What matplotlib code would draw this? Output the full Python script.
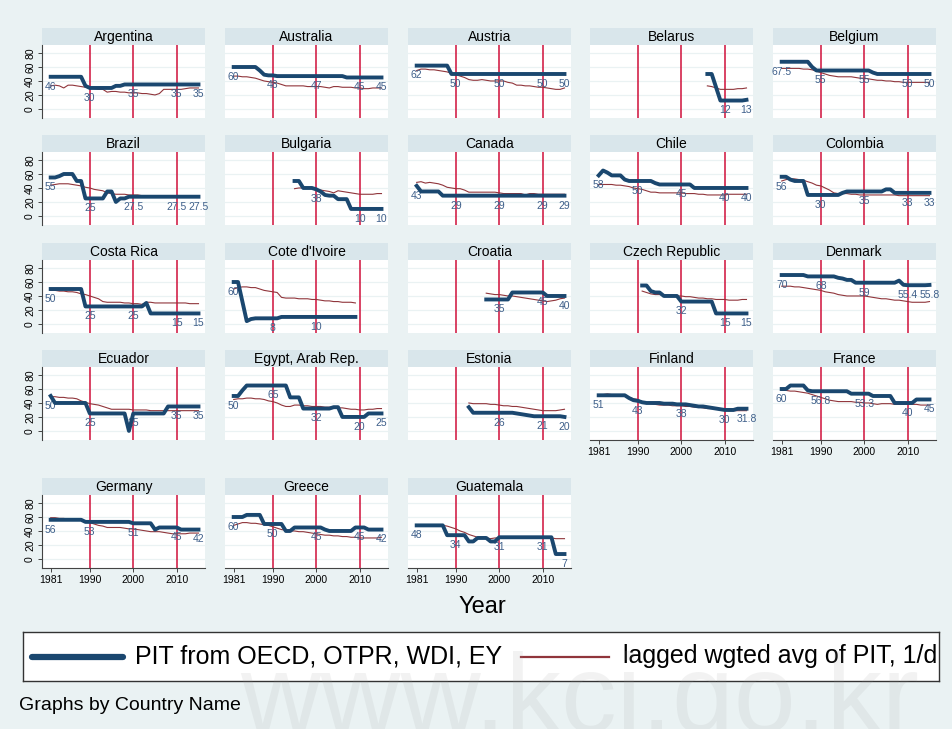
import numpy as np
import matplotlib
matplotlib.use('Agg')
from matplotlib import pyplot as plt

# Stata 风格字体 (Arial 替代)
plt.rcParams['font.family'] = ['Liberation Sans', 'DejaVu Sans']

nan = np.nan
years = list(range(1981, 2016))
label_years = [1981, 1990, 2000, 2010, 2015]

# PIT (blue) and lagged weighted avg (red), one value per year 1981-2015
argentina_pit = [46, 46, 46, 46, 46, 46, 46, 46, 33, 30, 30, 30, 30, 30, 30, 33, 33, 35, 35, 35,
                 35, 35, 35, 35, 35, 35, 35, 35, 35, 35, 35, 35, 35, 35, 35]
argentina_avg = [33, 34, 33, 30, 34, 34, 33, 32, 31, 30, 29, 28, 28, 24, 25, 25, 24, 24, 23, 23,
                 23, 22, 22, 21, 20, 22, 28, 28, 28, 28, 28, 29, 30, 30, 30]
australia_pit = [60, 60, 60, 60, 60, 60, 55, 49, 48, 48, 47, 47, 47, 47, 47, 47, 47, 47, 47, 47,
                 47, 47, 47, 47, 47, 47, 45, 45, 45, 45, 45, 45, 45, 45, 45]
australia_avg = [47, 47, 46, 46, 45, 44, 42, 40, 39, 38, 37, 35, 33, 33, 33, 33, 33, 32, 32, 32,
                 32, 31, 30, 32, 32, 31, 31, 31, 30, 30, 29, 29, 30, 30, 30]
austria_pit = [62, 62, 62, 62, 62, 62, 62, 62, 50, 50, 50, 50, 50, 50, 50, 50, 50, 50, 50, 50,
               50, 50, 50, 50, 50, 50, 50, 50, 50, 50, 50, 50, 50, 50, 50]
austria_avg = [55, 57, 57, 56, 56, 55, 54, 53, 51, 49, 47, 45, 42, 41, 41, 42, 41, 40, 40, 40,
               40, 38, 37, 34, 34, 33, 33, 32, 31, 31, 30, 29, 28, 28, 30]
belarus_pit = [nan] * 25 + [50, 50, 31, 12, 12, 12, 12, 12, 12, 13]
belarus_avg = [nan] * 25 + [33, 32, 30, 28, 28, 28, 28, 29, 29, 30]
belgium_pit = [67.5, 67.5, 67.5, 67.5, 67.5, 67.5, 67.5, 60, 55, 55, 55, 55, 55, 55, 55, 55, 55, 55,
               55, 55, 55, 52, 50, 50, 50, 50, 50, 50, 50, 50, 50, 50, 50, 50, 50]
belgium_avg = [58, 58, 58, 58, 58, 57, 57, 56, 54, 52, 50, 48, 47, 46, 46, 46, 46, 45, 44, 44,
               43, 42, 41, 41, 40, 40, 39, 39, 38, 38, 38, 38, 38, 38, 38]
brazil_pit = [55, 55, 57, 60, 60, 60, 50, 50, 25, 25, 25, 25, 25, 35, 35, 20, 25, 25, 27.5, 27.5,
              27.5, 27.5, 27.5, 27.5, 27.5, 27.5, 27.5, 27.5, 27.5, 27.5, 27.5, 27.5, 27.5, 27.5, 27.5]
brazil_avg = [44, 45, 46, 46, 46, 45, 44, 43, 41, 40, 38, 37, 36, 33, 32, 31, 31, 31, 30, 30,
              30, 29, 29, 29, 29, 28, 28, 28, 28, 28, 28, 29, 29, 29, 29]
bulgaria_pit = [nan] * 14 + [50, 50, 40, 40, 40, 38, 35, 30, 29, 29, 24, 24, 24, 10, 10, 10, 10,
                             10, 10, 10, 10]
bulgaria_avg = [nan] * 14 + [39, 40, 40, 40, 39, 38, 37, 36, 35, 33, 36, 35, 34, 33, 32, 31, 31,
                             31, 31, 32, 32]
canada_pit = [43, 35, 35, 35, 35, 35, 29, 29, 29, 29, 29, 29, 29, 29, 29, 29, 29, 29, 29, 29,
              29, 29, 29, 29, 29, 29, 29, 29, 29, 29, 29, 29, 29, 29, 29]
canada_avg = [48, 49, 47, 48, 47, 46, 44, 41, 40, 39, 39, 37, 34, 34, 34, 34, 34, 34, 34, 33,
              32, 32, 32, 32, 32, 30, 32, 32, 31, 31, 31, 31, 31, 31, 31]
chile_pit = [58, 65, 62, 58, 58, 58, 52, 50, 50, 50, 50, 50, 50, 47, 45, 45, 45, 45, 45, 45,
             45, 45, 40, 40, 40, 40, 40, 40, 40, 40, 40, 40, 40, 40, 40]
chile_avg = [45, 45, 45, 45, 44, 44, 43, 42, 40, 39, 38, 36, 34, 34, 33, 33, 33, 33, 33, 33,
             32, 32, 32, 31, 31, 30, 30, 30, 30, 30, 31, 31, 31, 31, 31]
colombia_pit = [56, 56, 52, 50, 50, 50, 30, 30, 30, 30, 30, 30, 30, 30, 33, 35, 35, 35, 35, 35,
                35, 35, 35, 35, 38, 38, 33, 33, 33, 33, 33, 33, 33, 33, 33]
colombia_avg = [50, 52, 53, 53, 52, 51, 49, 47, 44, 43, 40, 37, 33, 32, 32, 32, 31, 31, 30, 30,
                30, 30, 30, 30, 30, 30, 30, 29, 29, 29, 29, 29, 29, 29, 29]
costa_rica_pit = [50, 50, 50, 50, 50, 50, 50, 50, 25, 25, 25, 25, 25, 25, 25, 25, 25, 25, 25, 25,
                  25, 25, 30, 15, 15, 15, 15, 15, 15, 15, 15, 15, 15, 15, 15]
costa_rica_avg = [48, 48, 47, 47, 46, 46, 45, 43, 42, 40, 38, 36, 32, 31, 31, 31, 31, 30, 30, 29,
                  29, 28, 31, 31, 30, 30, 30, 30, 30, 30, 30, 30, 29, 29, 29]
cote_pit = [60, 60, 32, 4, 7, 8, 8, 8, 8, 8, 8, 10, 10, 10, 10, 10, 10, 10, 10, 10,
            10, 10, 10, 10, 10, 10, 10, 10, 10] + [nan] * 6
cote_avg = [50, 52, 53, 53, 52, 52, 50, 48, 47, 46, 45, 38, 37, 37, 37, 36, 36, 36, 35, 35,
            34, 33, 33, 32, 32, 31, 31, 31, 30] + [nan] * 6
croatia_pit = [nan] * 16 + [35, 35, 35, 35, 35, 35, 45, 45, 45, 45, 45, 45, 45, 45, 40, 40, 40,
                            40, 40]
croatia_avg = [nan] * 16 + [44, 43, 42, 42, 41, 40, 40, 39, 38, 37, 36, 35, 34, 33, 32, 33, 34,
                            36, 37]
czech_pit = [nan] * 10 + [55, 55, 47, 45, 45, 40, 40, 40, 40, 32, 32, 32, 32, 32, 32, 32, 32, 15,
                          15, 15, 15, 15, 15, 15, 15]
czech_avg = [nan] * 10 + [47, 45, 43, 42, 42, 41, 41, 41, 40, 40, 39, 39, 38, 37, 37, 36, 36, 35,
                          35, 35, 34, 34, 34, 35, 35]
denmark_pit = [70, 70, 70, 70, 70, 70, 68, 68, 68, 68, 68, 68, 68, 66, 65, 63, 63, 59, 59, 59,
               59, 59, 59, 59, 59, 59, 59, 62, 56, 55.4, 55.4, 55.4, 55.4, 55.4, 55.8]
denmark_avg = [54, 54, 54, 53, 53, 52, 51, 50, 49, 48, 46, 45, 44, 42, 41, 40, 40, 40, 40, 40,
               39, 38, 37, 36, 36, 35, 34, 34, 33, 32, 31, 31, 31, 31, 32]
ecuador_pit = [50, 40, 40, 40, 40, 40, 40, 40, 40, 25, 25, 25, 25, 25, 25, 25, 25, 25, 0, 25,
               25, 25, 25, 25, 25, 25, 25, 35, 35, 35, 35, 35, 35, 35, 35]
ecuador_avg = [49, 49, 48, 48, 47, 47, 46, 43, 41, 39, 38, 37, 35, 33, 31, 31, 31, 31, 31, 30,
               30, 30, 30, 29, 29, 29, 29, 29, 29, 29, 29, 29, 29, 29, 29]
egypt_pit = [50, 50, 58, 65, 65, 65, 65, 65, 65, 65, 65, 65, 65, 48, 48, 48, 32, 32, 32, 32,
             32, 32, 32, 34, 34, 20, 20, 20, 20, 20, 20, 25, 25, 25, 25]
egypt_avg = [45, 46, 46, 47, 47, 46, 46, 45, 43, 42, 40, 37, 35, 35, 37, 37, 36, 36, 35, 35,
             35, 34, 34, 34, 33, 33, 32, 31, 31, 30, 30, 31, 31, 32, 32]
estonia_pit = [nan] * 12 + [34, 26, 26, 26, 26, 26, 26, 26, 26, 26, 26, 25, 24, 23, 22, 21, 21,
                            21, 21, 21, 21, 21, 20]
estonia_avg = [nan] * 12 + [40, 39, 39, 39, 39, 38, 38, 37, 36, 36, 35, 35, 34, 33, 32, 31, 30,
                            29, 29, 29, 29, 30, 31]
finland_pit = [51, 51, 51, 51, 51, 51, 51, 47, 44, 43, 41, 40, 40, 40, 40, 39, 39, 39, 38, 38,
               38, 37, 36, 35, 35, 34, 33, 32, 31, 30, 30, 30, 31.8, 31.8, 31.8]
finland_avg = [50, 52, 53, 52, 51, 51, 50, 48, 46, 45, 42, 40, 39, 38, 37, 37, 37, 36, 36, 36,
               35, 35, 34, 34, 33, 32, 32, 31, 31, 30, 29, 29, 29, 29, 29]
france_pit = [60, 60, 65, 65, 65, 65, 58, 56.8, 56.8, 56.8, 56.8, 56.8, 56.8, 56.8, 56.8, 56.8,
              53.3, 53.3, 53.3, 53.3, 53.3, 50, 50, 50, 50, 50, 40, 40, 40, 40, 40, 45, 45, 45, 45]
france_avg = [58, 58, 57, 57, 56, 55, 54, 52, 50, 48, 46, 44, 43, 42, 42, 42, 42, 41, 41, 40,
              40, 39, 38, 39, 39, 39, 38, 38, 38, 38, 38, 38, 37, 37, 37]
germany_pit = [56, 56, 56, 56, 56, 56, 56, 56, 53, 53, 53, 53, 53, 53, 53, 53, 53, 53, 53, 51,
               51, 51, 51, 51, 42, 45, 45, 45, 45, 45, 42, 42, 42, 42, 42]
germany_avg = [59, 59, 58, 58, 57, 57, 56, 56, 54, 52, 50, 48, 47, 45, 45, 45, 45, 44, 43, 43,
               42, 41, 40, 39, 39, 39, 38, 37, 36, 36, 36, 36, 37, 37, 37]
greece_pit = [60, 60, 60, 63, 63, 63, 63, 50, 50, 50, 50, 50, 40, 40, 45, 45, 45, 45, 45, 45,
              45, 42, 40, 40, 40, 40, 40, 40, 45, 45, 45, 42, 42, 42, 42]
greece_avg = [48, 50, 52, 52, 51, 51, 50, 49, 48, 46, 44, 42, 41, 40, 40, 39, 39, 38, 37, 36,
              35, 34, 34, 33, 33, 32, 32, 31, 31, 30, 30, 30, 30, 30, 31]
guatemala_pit = [48, 48, 48, 48, 48, 48, 48, 34, 34, 34, 34, 34, 25, 25, 30, 30, 30, 25, 25, 31,
                 31, 31, 31, 31, 31, 31, 31, 31, 31, 31, 31, 31, 7, 7, 7]
guatemala_avg = [48, 48, 48, 48, 48, 48, 48, 47, 45, 43, 40, 38, 35, 33, 31, 30, 30, 29, 30, 30,
                 30, 30, 30, 30, 30, 30, 30, 30, 30, 30, 30, 30, 29, 29, 29]

countries = ['Argentina', 'Australia', 'Austria', 'Belarus', 'Belgium',
             'Brazil', 'Bulgaria', 'Canada', 'Chile', 'Colombia',
             'Costa Rica', "Cote d'Ivoire", 'Croatia', 'Czech Republic', 'Denmark',
             'Ecuador', 'Egypt, Arab Rep.', 'Estonia', 'Finland', 'France',
             'Germany', 'Greece', 'Guatemala']
pit_series = [argentina_pit, australia_pit, austria_pit, belarus_pit, belgium_pit,
              brazil_pit, bulgaria_pit, canada_pit, chile_pit, colombia_pit,
              costa_rica_pit, cote_pit, croatia_pit, czech_pit, denmark_pit,
              ecuador_pit, egypt_pit, estonia_pit, finland_pit, france_pit,
              germany_pit, greece_pit, guatemala_pit]
avg_series = [argentina_avg, australia_avg, austria_avg, belarus_avg, belgium_avg,
              brazil_avg, bulgaria_avg, canada_avg, chile_avg, colombia_avg,
              costa_rica_avg, cote_avg, croatia_avg, czech_avg, denmark_avg,
              ecuador_avg, egypt_avg, estonia_avg, finland_avg, france_avg,
              germany_avg, greece_avg, guatemala_avg]

BG = '#eaf2f3'
NAVY = '#1a476f'
MAROON = '#90353b'
VLINE = '#d0103a'
LABEL = '#3e5f8a'

W, H = 952, 729
fig = plt.figure(figsize=(W / 100, H / 100), dpi=100)
fig.patch.set_facecolor(BG)


def box(x, y, w, h):
    # 像素坐标 -> figure 坐标
    return [x / W, 1 - (y + h) / H, w / W, h / H]


col_x = [42, 225, 408, 590, 773]
row_top = [28, 135, 243, 350, 478]
pw, th, ph = 163, 17, 73

for i, name in enumerate(countries):
    r, c = divmod(i, 5)
    x0, y0 = col_x[c], row_top[r]

    # 标题条
    tax = fig.add_axes(box(x0, y0, pw, th))
    tax.set_facecolor('#d9e6eb')
    tax.set_xticks([])
    tax.set_yticks([])
    for s in tax.spines.values():
        s.set_visible(False)
    tax.text(0.5, 0.45, name, ha='center', va='center', fontsize=10, transform=tax.transAxes)

    ax = fig.add_axes(box(x0, y0 + th, pw, ph))
    ax.set_facecolor('white')
    ax.set_xlim(1979, 2016.5)
    ax.set_ylim(-13, 91.5)
    for yy in [0, 20, 40, 60, 80]:
        ax.axhline(yy, color=BG, lw=0.9, zorder=0)
    for xx in [1990, 2000, 2010]:
        ax.axvline(xx, color=VLINE, lw=1.1, zorder=1)

    pit = np.array(pit_series[i], dtype=float)
    avg = np.array(avg_series[i], dtype=float)
    ax.plot(years, avg, color=MAROON, lw=0.8, zorder=2)
    ax.plot(years, pit, color=NAVY, lw=2.8, zorder=3)
    for yr in label_years:
        v = pit[yr - 1981]
        if not np.isnan(v):
            ax.annotate(f'{v:g}', (yr, v), xytext=(0, -3.5), textcoords='offset points',
                        ha='center', va='top', fontsize=7.5, color=LABEL, zorder=2.5)

    for s in ax.spines.values():
        s.set_visible(False)
    if c == 0:
        ax.spines['left'].set_visible(True)
        ax.spines['left'].set_color('#444444')
        ax.spines['left'].set_linewidth(0.8)
        ax.set_yticks([0, 20, 40, 60, 80])
        ax.set_yticklabels(['0', '20', '40', '60', '80'], rotation=90, va='center', fontsize=7.5)
        ax.tick_params(axis='y', length=3, width=0.7, color='#444444', pad=2)
    else:
        ax.set_yticks([])
    if i >= 18:
        ax.spines['bottom'].set_visible(True)
        ax.spines['bottom'].set_color('#444444')
        ax.spines['bottom'].set_linewidth(0.8)
        ax.set_xticks([1981, 1990, 2000, 2010])
        ax.set_xticklabels(['1981', '1990', '2000', '2010'], fontsize=7.5)
        ax.tick_params(axis='x', length=3, width=0.7, color='#444444', pad=2)
    else:
        ax.set_xticks([])

fig.text(482 / W, 1 - 607 / H, 'Year', ha='center', va='center', fontsize=17)

# 图例
lax = fig.add_axes(box(23, 632, 916, 49))
lax.set_facecolor('white')
lax.set_xlim(0, 916)
lax.set_ylim(0, 49)
lax.set_xticks([])
lax.set_yticks([])
for s in lax.spines.values():
    s.set_color('#333333')
    s.set_linewidth(1)
lax.plot([9, 100], [24.5, 24.5], color=NAVY, lw=4.5, solid_capstyle='round')
lax.text(112, 24.5, 'PIT from OECD, OTPR, WDI, EY', va='center', fontsize=18, clip_on=True)
lax.plot([498, 586], [24.5, 24.5], color=MAROON, lw=1.6)
lax.text(600, 24.5, 'lagged wgted avg of PIT, 1/d', va='center', fontsize=18, clip_on=True)

fig.text(19 / W, 1 - 705 / H, 'Graphs by Country Name', ha='left', va='center', fontsize=14)

# 水印 (很淡)
fig.text(580 / W, 1 - 732 / H, 'www.kci.go.kr', ha='center', va='baseline', fontsize=80,
         color='#9a9a9a', alpha=0.12, zorder=10)

fig.savefig('out.png', dpi=100, facecolor=fig.get_facecolor())
